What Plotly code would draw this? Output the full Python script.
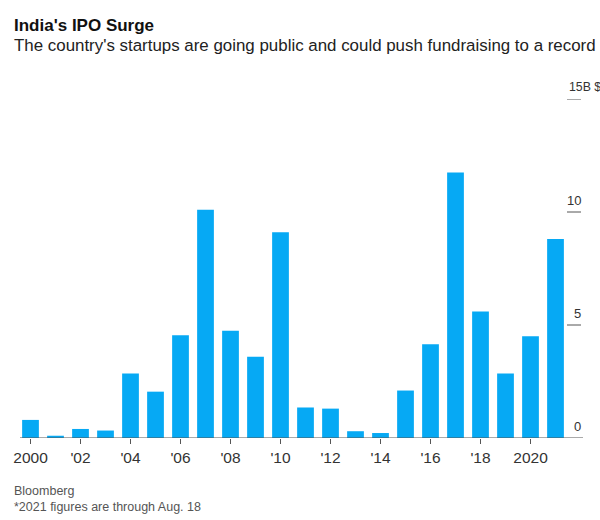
import plotly.graph_objects as go

years = list(range(2000, 2022))
ipo_values = [0.8, 0.1, 0.4, 0.33, 2.85, 2.05, 4.55, 10.1, 4.75, 3.6, 9.1,
              1.35, 1.3, 0.3, 0.22, 2.1, 4.15, 11.75, 5.6, 2.85, 4.5, 8.8]
x_tick_vals = [2000, 2002, 2004, 2006, 2008, 2010, 2012, 2014, 2016, 2018, 2020]
x_tick_text = ["2000", "'02", "'04", "'06", "'08", "'10", "'12", "'14", "'16", "'18", "2020"]
y_tick_vals = [0, 5, 10, 15]
y_tick_text = ["0", "5", "10", "15B $"]

W, H = 600, 520
ML, MR, MT, MB = 18, 32, 99, 82
PW = W - ML - MR
PH = H - MT - MB

def px_x(px):
    return (px - ML) / PW

def px_y(py):
    return (H - MB - py) / PH

FONT = "Liberation Sans, Arial, sans-serif"
AXIS_COLOR = "#555555"
TEXT_COLOR = "#333333"

fig = go.Figure(go.Bar(
    x=years, y=ipo_values,
    marker=dict(color="#06a9f4", line=dict(width=0)),
    hoverinfo="x+y",
))

shapes = [dict(type="line", xref="paper", yref="y", x0=px_x(20), x1=px_x(583),
               y0=0, y1=0, line=dict(color=AXIS_COLOR, width=1))]
annotations = []
for v, t in zip(y_tick_vals, y_tick_text):
    if v != 0:
        shapes.append(dict(type="line", xref="paper", yref="y", x0=px_x(567), x1=px_x(581),
                           y0=v, y1=v, line=dict(color=AXIS_COLOR, width=1)))
    if t.endswith("$"):
        annotations.append(dict(x=px_x(567), xref="paper", y=v, yref="y", text=t,
                                showarrow=False, xanchor="left", yanchor="middle", yshift=12,
                                font=dict(family=FONT, size=12.3, color=TEXT_COLOR)))
    else:
        annotations.append(dict(x=px_x(583), xref="paper", y=v, yref="y", text=t,
                                showarrow=False, xanchor="right", yanchor="middle", yshift=12,
                                font=dict(family=FONT, size=13, color=TEXT_COLOR)))

annotations += [
    dict(x=px_x(12), y=px_y(25), xref="paper", yref="paper", text="<b>India's IPO Surge</b>",
         showarrow=False, xanchor="left", yanchor="middle",
         font=dict(family=FONT, size=17, color="#111111")),
    dict(x=px_x(12), y=px_y(46), xref="paper", yref="paper",
         text="The country's startups are going public and could push fundraising to a record",
         showarrow=False, xanchor="left", yanchor="middle",
         font=dict(family=FONT, size=16.9, color="#222222")),
    dict(x=px_x(12), y=px_y(491), xref="paper", yref="paper", text="Bloomberg",
         showarrow=False, xanchor="left", yanchor="middle",
         font=dict(family=FONT, size=12.5, color="#555555")),
    dict(x=px_x(12), y=px_y(507), xref="paper", yref="paper",
         text="*2021 figures are through Aug. 18",
         showarrow=False, xanchor="left", yanchor="middle",
         font=dict(family=FONT, size=12.5, color="#555555")),
]

fig.update_layout(
    width=W, height=H,
    margin=dict(l=ML, r=MR, t=MT, b=MB),
    paper_bgcolor="white", plot_bgcolor="white",
    bargap=0.33,
    showlegend=False,
    shapes=shapes,
    annotations=annotations,
    xaxis=dict(range=[1999.5, 2021.5], tickvals=x_tick_vals, ticktext=x_tick_text,
               ticks="outside", ticklen=5, tickcolor=AXIS_COLOR, tickwidth=1,
               showgrid=False, zeroline=False, showline=False,
               tickfont=dict(family=FONT, size=15.5, color=TEXT_COLOR), fixedrange=True),
    yaxis=dict(range=[0, 15], showticklabels=False, showgrid=False, zeroline=False,
               showline=False, ticks="", fixedrange=True),
)

fig.write_html("out.html", config={"displayModeBar": False},
               post_script="document.body.style.margin='0px';document.body.style.overflow='hidden';")
